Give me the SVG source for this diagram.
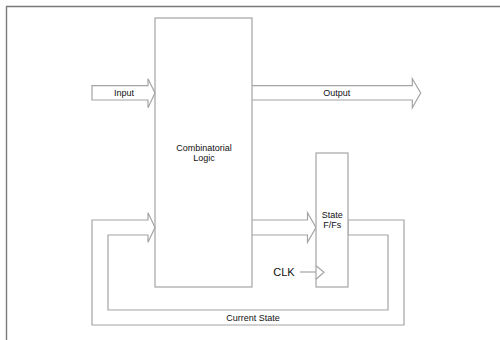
<svg xmlns="http://www.w3.org/2000/svg" width="500" height="340" viewBox="0 0 500 340">
<style>
.ln{fill:#fff;stroke:#a4a4a4;stroke-width:1.2;stroke-linejoin:miter}
.open{fill:none;stroke:#a4a4a4;stroke-width:1.2}
.t{font-family:"Liberation Sans",Arial,sans-serif;font-size:9px;fill:#111;text-anchor:middle;dominant-baseline:central}
</style>
<rect width="500" height="340" fill="#fff"/>
<path d="M6.5,340 V6.5 H500" fill="none" stroke="#7a7a7a" stroke-width="1.4"/>
<g id="connectors">
<path id="feedback" class="ln" d="M348,220 H404 V325 H92 V220 H148 V212.7 L155,227.5 L148,242.3 V235 H108 V310 H388 V235 H348 Z"/>
<path id="input-arrow" class="ln" d="M92,85.7 H148 V78.7 L155,93 L148,107.7 V100 H92 Z"/>
<path id="output-arrow" class="ln" d="M252,85.7 H412.3 V78.7 L420.7,93 L412.3,107.7 V100 H252"/>
<path id="next-arrow" class="ln" d="M252,220 H307.5 V212.7 L316,227.5 L307.5,242.3 V235 H252"/>
<path id="clk-line" class="open" d="M300,272 H316"/>
</g>
<g id="combinatorial-logic">
<rect class="ln" x="155" y="18" width="97" height="269" fill="none" style="fill:none"/>
<text class="t" x="204" y="147.5">Combinatorial</text>
<text class="t" x="204" y="158">Logic</text>
</g>
<g id="state-ffs">
<rect class="ln" x="316" y="153" width="32" height="134"/>
<text class="t" x="332.3" y="215">State</text>
<text class="t" x="332.3" y="224.5">F/Fs</text>
<path class="open" d="M316,265.7 L324,272.3 L316,279.3"/>
</g>
<g id="labels">
<text class="t" x="124" y="93">Input</text>
<text class="t" x="336.7" y="93">Output</text>
<text class="t" x="253" y="317.5">Current State</text>
<text class="t" x="284" y="272.3" style="font-size:11px">CLK</text>
</g>
</svg>
